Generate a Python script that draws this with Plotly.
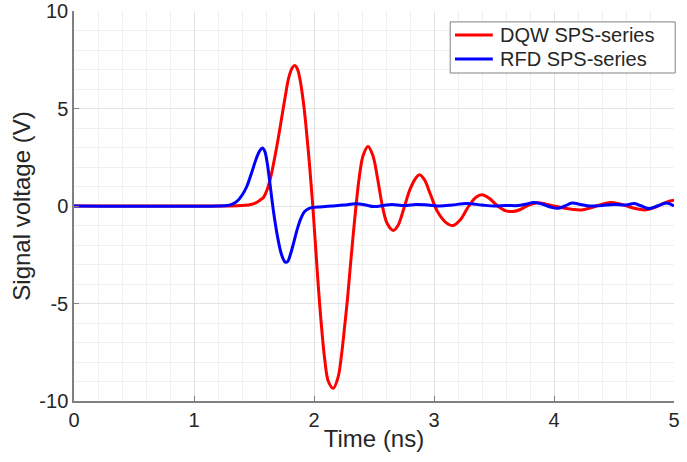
import plotly.graph_objects as go

# DQW SPS-series pickup signal (time in ns, voltage in V)
dqw_t = [0.0, 1.0, 1.3, 1.40, 1.45, 1.50, 1.55, 1.58, 1.61, 1.64, 1.67, 1.70,
         1.73, 1.76, 1.79, 1.82, 1.84, 1.86, 1.88, 1.91, 1.93, 1.96, 1.99, 2.03,
         2.06, 2.09, 2.12, 2.16, 2.20, 2.23, 2.26, 2.28, 2.31, 2.35, 2.38, 2.41,
         2.45, 2.49, 2.53, 2.57, 2.61, 2.66, 2.70, 2.75, 2.80, 2.85, 2.88, 2.92,
         2.97, 3.03, 3.10, 3.16, 3.22, 3.29, 3.35, 3.40, 3.46, 3.53, 3.60, 3.66,
         3.72, 3.79, 3.86, 3.93, 4.00, 4.08, 4.16, 4.23, 4.30, 4.38, 4.47, 4.55,
         4.63, 4.70, 4.76, 4.83, 4.90, 4.96, 5.00]
dqw_v = [0.0, 0.0, 0.0, 0.02, 0.05, 0.12, 0.3, 0.45, 0.85, 1.5, 2.4, 3.4,
         4.5, 5.6, 6.6, 7.1, 7.2, 7.05, 6.6, 5.4, 4.3, 2.3, 0.0, -3.6,
         -6.0, -7.9, -9.0, -9.35, -8.8, -7.6, -5.9, -4.7, -2.6, 0.0, 1.6, 2.6,
         3.05, 2.6, 1.4, 0.0, -0.9, -1.25, -1.0, -0.1, 0.85, 1.45, 1.6, 1.35,
         0.6, -0.3, -0.85, -1.0, -0.7, 0.0, 0.45, 0.58, 0.4, 0.0, -0.25, -0.28,
         -0.18, 0.05, 0.17, 0.1, 0.0, -0.1, -0.18, -0.2, -0.1, 0.05, 0.18, 0.1,
         -0.05, -0.15, -0.2, -0.1, 0.1, 0.25, 0.3]

# RFD SPS-series pickup signal
rfd_t = [0.0, 1.20, 1.28, 1.32, 1.36, 1.40, 1.44, 1.48, 1.52, 1.55, 1.57, 1.59,
         1.61, 1.63, 1.65, 1.67, 1.70, 1.73, 1.76, 1.78, 1.80, 1.83, 1.86, 1.89,
         1.92, 1.96, 2.00, 2.05, 2.15, 2.25, 2.35, 2.43, 2.50, 2.58, 2.65, 2.75,
         2.85, 2.95, 3.05, 3.15, 3.27, 3.40, 3.50, 3.60, 3.70, 3.77, 3.83, 3.90,
         3.97, 4.03, 4.09, 4.15, 4.22, 4.30, 4.40, 4.50, 4.60, 4.67, 4.73, 4.79,
         4.86, 4.94, 5.00]
rfd_v = [0.0, 0.0, 0.03, 0.1, 0.25, 0.55, 1.0, 1.7, 2.45, 2.85, 2.97, 2.8,
         2.2, 1.3, 0.3, -0.6, -1.7, -2.5, -2.88, -2.85, -2.55, -1.9, -1.2, -0.65,
         -0.3, -0.12, -0.07, -0.05, 0.0, 0.05, 0.12, 0.05, -0.03, 0.03, 0.08, 0.02,
         0.08, 0.05, 0.0, 0.05, 0.13, 0.05, 0.0, 0.03, 0.02, 0.1, 0.18, 0.1,
         -0.05, -0.12, 0.0, 0.15, 0.08, 0.0, 0.03, 0.08, 0.05, 0.13, 0.0, -0.13,
         0.0, 0.15, 0.0]

x_ticks = [0, 1, 2, 3, 4, 5]
x_labels = ["0", "1", "2", "3", "4", "5"]
y_ticks = [-10, -5, 0, 5, 10]
y_labels = ["-10", "-5", "0", "5", "10"]

series_names = ["DQW SPS-series", "RFD SPS-series"]
series_colors = ["#ff0000", "#0000ff"]

font = "Liberation Sans, Arial, sans-serif"
text_color = "#262626"

fig = go.Figure()
for t, v, name, color in [(dqw_t, dqw_v, series_names[0], series_colors[0]),
                          (rfd_t, rfd_v, series_names[1], series_colors[1])]:
    fig.add_trace(go.Scatter(x=t, y=v, mode="lines", name=name, showlegend=False,
                             line=dict(color=color, width=3, shape="spline", smoothing=1.0)))

# Boxed legend in the upper-right corner (paper coordinates)
box_x0, box_x1, box_y0, box_y1 = 0.627, 1.002, 0.841, 0.972
row_y = [0.9385, 0.877]
shapes = [dict(type="rect", xref="paper", yref="paper",
               x0=box_x0, x1=box_x1, y0=box_y0, y1=box_y1,
               fillcolor="white", line=dict(color="#808080", width=1), layer="above")]
annotations = []
for name, color, y in zip(series_names, series_colors, row_y):
    shapes.append(dict(type="line", xref="paper", yref="paper",
                       x0=0.635, x1=0.698, y0=y, y1=y,
                       line=dict(color=color, width=3), layer="above"))
    annotations.append(dict(xref="paper", yref="paper", x=0.706, y=y,
                            xanchor="left", yanchor="middle", showarrow=False,
                            text=name, font=dict(family=font, size=20, color=text_color)))

axis_common = dict(
    showline=True, linecolor="#808080", linewidth=1.5, mirror=False,
    ticks="inside", ticklen=5, tickcolor="#808080",
    showgrid=True, gridcolor="#e3e3e3", gridwidth=1,
    zeroline=False, automargin=False,
    tickfont=dict(family=font, size=20, color=text_color),
)

fig.update_layout(
    width=687, height=462,
    margin=dict(l=74, r=13, t=11, b=61),
    paper_bgcolor="white", plot_bgcolor="white",
    font=dict(family=font, color=text_color),
    showlegend=False,
    shapes=shapes,
    annotations=annotations,
    xaxis=dict(
        range=[0, 5], tickvals=x_ticks, ticktext=x_labels,
        minor=dict(dtick=0.2, showgrid=True, gridcolor="#f0f0f0", ticks=""),
        title=dict(text="Time (ns)", font=dict(family=font, size=24, color=text_color), standoff=0),
        **axis_common,
    ),
    yaxis=dict(
        range=[-10, 10], tickvals=y_ticks, ticktext=y_labels,
        minor=dict(dtick=1, showgrid=True, gridcolor="#f0f0f0", ticks=""),
        title=dict(text="Signal voltage (V)", font=dict(family=font, size=24, color=text_color), standoff=2),
        **axis_common,
    ),
)

fig.write_html("out.html")
